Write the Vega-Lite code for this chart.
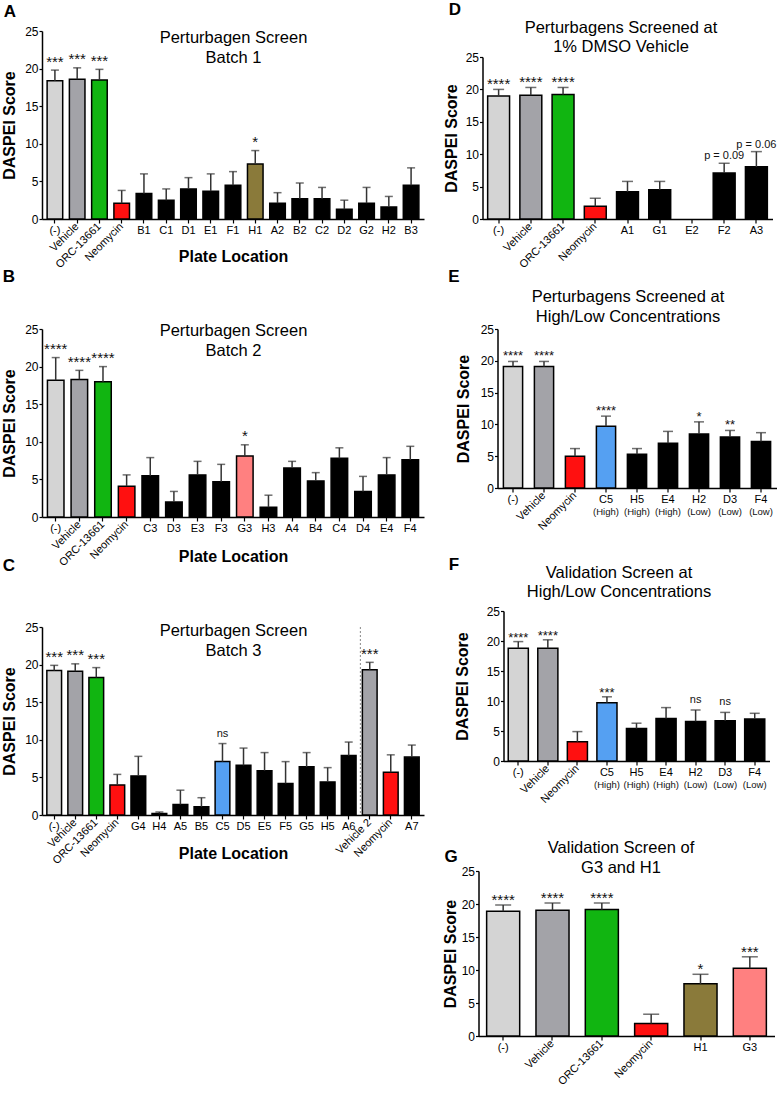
{
  "$schema": "https://vega.github.io/schema/vega-lite/v6.json",
  "background": "white",
  "padding": {"left": 1, "top": 0, "right": 0, "bottom": 0},
  "spacing": 18.5,
  "config": {
    "view": {"stroke": null},
    "font": "Liberation Sans",
    "axis": {"labelFont": "Liberation Sans", "titleFont": "Liberation Sans", "labelColor": "black", "titleColor": "black", "domainColor": "black", "tickColor": "black", "grid": false},
    "text": {"font": "Liberation Sans", "color": "#111"}
  },
  "hconcat": [
    {
      "spacing": 110,
      "bounds": "flush",
      "vconcat": [
        {
          "width": 382, "height": 188,
          "data": {"values": [
            {"cat": "(-)", "grp": "neg", "mean": 18.4, "hi": 19.8, "sig": "***"},
            {"cat": "Vehicle", "lab": "Vehicle", "grp": "veh", "mean": 18.6, "hi": 20.1, "sig": "***"},
            {"cat": "ORC-13661", "lab": "ORC-13661", "grp": "orc", "mean": 18.5, "hi": 19.9, "sig": "***"},
            {"cat": "Neomycin", "lab": "Neomycin", "grp": "neo", "mean": 2.1, "hi": 3.8},
            {"cat": "B1", "grp": "test", "mean": 3.4, "hi": 6.0},
            {"cat": "C1", "grp": "test", "mean": 2.5, "hi": 4.0},
            {"cat": "D1", "grp": "test", "mean": 4.0, "hi": 5.5},
            {"cat": "E1", "grp": "test", "mean": 3.7, "hi": 6.0},
            {"cat": "F1", "grp": "test", "mean": 4.5, "hi": 6.3},
            {"cat": "H1", "grp": "h1", "mean": 7.3, "hi": 9.1, "sig": "*"},
            {"cat": "A2", "grp": "test", "mean": 2.1, "hi": 3.5},
            {"cat": "B2", "grp": "test", "mean": 2.7, "hi": 4.8},
            {"cat": "C2", "grp": "test", "mean": 2.7, "hi": 4.2},
            {"cat": "D2", "grp": "test", "mean": 1.3, "hi": 2.5},
            {"cat": "G2", "grp": "test", "mean": 2.1, "hi": 4.2},
            {"cat": "H2", "grp": "test", "mean": 1.6, "hi": 3.0},
            {"cat": "B3", "grp": "test", "mean": 4.5, "hi": 6.8}
          ]},
          "layer": [
            {
              "mark": {"type": "bar", "stroke": "black", "strokeWidth": 1.5},
              "encoding": {
                "x": {"field": "cat", "type": "nominal",
                  "scale": {"domain": ["(-)", "Vehicle", "ORC-13661", "Neomycin", "B1", "C1", "D1", "E1", "F1", "H1", "A2", "B2", "C2", "D2", "G2", "H2", "B3"], "paddingInner": 0.3, "paddingOuter": 0.23},
                  "axis": {"orient": "bottom", "title": "Plate Location", "titleFontSize": 16, "titleFontWeight": "bold", "titleX": 191, "titleY": 37, "titleAlign": "center", "titleBaseline": "middle", "labelFontSize": 11, "labelAngle": 0, "labelPadding": 1, "tickSize": 4, "tickWidth": 1.2, "domainWidth": 1.5, "labelOverlap": false,
                    "labelExpr": "indexof(['Vehicle','ORC-13661','Neomycin','Vehicle 2','Neomycin 2'], datum.value) >= 0 ? '' : datum.value"}},
                "y": {"field": "mean", "type": "quantitative", "scale": {"domain": [0, 25], "nice": false},
                  "axis": {"title": "DASPEI Score", "titleFontSize": 16, "titleFontWeight": "bold", "titleX": -32.5, "titleBaseline": "middle", "values": [0, 5, 10, 15, 20, 25], "labelFontSize": 12, "tickSize": 3, "labelPadding": 1, "domainWidth": 1.5, "tickWidth": 1.2}},
                "color": {"field": "grp", "type": "nominal", "legend": null,
                  "scale": {"domain": ["neg", "veh", "orc", "neo", "h1", "g3", "c5", "test"], "range": ["#d4d4d4", "#a3a3a8", "#11b511", "#ff1010", "#8a7a3a", "#ff8080", "#55a0f2", "#000000"]}}
              }
            },
            {
              "mark": {"type": "rule", "color": "#333", "strokeWidth": 1.5},
              "encoding": {
                "x": {"field": "cat", "type": "nominal", "axis": {"orient": "top", "domain": false, "ticks": false, "labels": false, "title": ["Perturbagen Screen", "Batch 1"], "titleFontSize": 16.5, "titleFontWeight": "normal", "titleX": 191, "titleY": 11.5, "titleAlign": "center", "titleBaseline": "alphabetic", "titleLineHeight": 20, "titleAngle": 0}},
                "y": {"field": "mean", "type": "quantitative", "axis": null},
                "y2": {"field": "hi"}
              }
            },
            {
              "mark": {"type": "tick", "orient": "horizontal", "color": "#333", "thickness": 1.5, "size": 8},
              "encoding": {
                "x": {"field": "cat", "type": "nominal", "axis": null},
                "y": {"field": "hi", "type": "quantitative", "axis": {"orient": "right", "domain": false, "ticks": false, "labels": false, "title": "A", "titleFontSize": 17, "titleFontWeight": "bold", "titleAngle": 0, "titleX": -414.5, "titleY": -20, "titleAlign": "center", "titleBaseline": "middle"}}
              }
            },
            {
              "transform": [{"filter": "datum.sig && indexof(datum.sig, '*') >= 0"}],
              "mark": {"type": "text", "fontSize": 15, "baseline": "alphabetic", "dy": -3.5},
              "encoding": {
                "x": {"field": "cat", "type": "nominal", "axis": null},
                "y": {"field": "hi", "type": "quantitative", "axis": null},
                "text": {"field": "sig"}
              }
            },
            {
              "transform": [{"filter": "datum.lab"}],
              "mark": {"type": "text", "angle": 315, "align": "right", "baseline": "middle", "yOffset": 6, "fontSize": 11, "color": "black"},
              "encoding": {
                "x": {"field": "cat", "type": "nominal", "axis": null},
                "y": {"datum": 0, "type": "quantitative", "axis": null},
                "text": {"field": "lab"}
              }
            }
          ],
          "resolve": {"axis": {"x": "independent", "y": "independent"}}
        },
        {
          "width": 382, "height": 188,
          "data": {"values": [
            {"cat": "(-)", "grp": "neg", "mean": 18.2, "hi": 21.2, "sig": "****"},
            {"cat": "Vehicle", "lab": "Vehicle", "grp": "veh", "mean": 18.3, "hi": 19.5, "sig": "****"},
            {"cat": "ORC-13661", "lab": "ORC-13661", "grp": "orc", "mean": 18.0, "hi": 20.0, "sig": "****"},
            {"cat": "Neomycin", "lab": "Neomycin", "grp": "neo", "mean": 4.1, "hi": 5.6},
            {"cat": "C3", "grp": "test", "mean": 5.5, "hi": 7.9},
            {"cat": "D3", "grp": "test", "mean": 2.0, "hi": 3.4},
            {"cat": "E3", "grp": "test", "mean": 5.6, "hi": 7.4},
            {"cat": "F3", "grp": "test", "mean": 4.7, "hi": 7.0},
            {"cat": "G3", "grp": "g3", "mean": 8.1, "hi": 9.6, "sig": "*"},
            {"cat": "H3", "grp": "test", "mean": 1.3, "hi": 2.9},
            {"cat": "A4", "grp": "test", "mean": 6.5, "hi": 7.4},
            {"cat": "B4", "grp": "test", "mean": 4.8, "hi": 5.9},
            {"cat": "C4", "grp": "test", "mean": 7.8, "hi": 9.2},
            {"cat": "D4", "grp": "test", "mean": 3.4, "hi": 5.4},
            {"cat": "E4", "grp": "test", "mean": 5.6, "hi": 7.9},
            {"cat": "F4", "grp": "test", "mean": 7.6, "hi": 9.4}
          ]},
          "layer": [
            {
              "mark": {"type": "bar", "stroke": "black", "strokeWidth": 1.5},
              "encoding": {
                "x": {"field": "cat", "type": "nominal",
                  "scale": {"domain": ["(-)", "Vehicle", "ORC-13661", "Neomycin", "C3", "D3", "E3", "F3", "G3", "H3", "A4", "B4", "C4", "D4", "E4", "F4"], "paddingInner": 0.3, "paddingOuter": 0.23},
                  "axis": {"orient": "bottom", "title": "Plate Location", "titleFontSize": 16, "titleFontWeight": "bold", "titleX": 191, "titleY": 39, "titleAlign": "center", "titleBaseline": "middle", "labelFontSize": 11, "labelAngle": 0, "labelPadding": 1, "tickSize": 4, "tickWidth": 1.2, "domainWidth": 1.5, "labelOverlap": false,
                    "labelExpr": "indexof(['Vehicle','ORC-13661','Neomycin','Vehicle 2','Neomycin 2'], datum.value) >= 0 ? '' : datum.value"}},
                "y": {"field": "mean", "type": "quantitative", "scale": {"domain": [0, 25], "nice": false},
                  "axis": {"title": "DASPEI Score", "titleFontSize": 16, "titleFontWeight": "bold", "titleX": -32.5, "titleBaseline": "middle", "values": [0, 5, 10, 15, 20, 25], "labelFontSize": 12, "tickSize": 3, "labelPadding": 1, "domainWidth": 1.5, "tickWidth": 1.2}},
                "color": {"field": "grp", "type": "nominal", "legend": null,
                  "scale": {"domain": ["neg", "veh", "orc", "neo", "h1", "g3", "c5", "test"], "range": ["#d4d4d4", "#a3a3a8", "#11b511", "#ff1010", "#8a7a3a", "#ff8080", "#55a0f2", "#000000"]}}
              }
            },
            {
              "mark": {"type": "rule", "color": "#333", "strokeWidth": 1.5},
              "encoding": {
                "x": {"field": "cat", "type": "nominal", "axis": {"orient": "top", "domain": false, "ticks": false, "labels": false, "title": ["Perturbagen Screen", "Batch 2"], "titleFontSize": 16.5, "titleFontWeight": "normal", "titleX": 191, "titleY": 6.5, "titleAlign": "center", "titleBaseline": "alphabetic", "titleLineHeight": 19.5, "titleAngle": 0}},
                "y": {"field": "mean", "type": "quantitative", "axis": null},
                "y2": {"field": "hi"}
              }
            },
            {
              "mark": {"type": "tick", "orient": "horizontal", "color": "#333", "thickness": 1.5, "size": 8},
              "encoding": {
                "x": {"field": "cat", "type": "nominal", "axis": null},
                "y": {"field": "hi", "type": "quantitative", "axis": {"orient": "right", "domain": false, "ticks": false, "labels": false, "title": "B", "titleFontSize": 17, "titleFontWeight": "bold", "titleAngle": 0, "titleX": -415.5, "titleY": -53, "titleAlign": "center", "titleBaseline": "middle"}}
              }
            },
            {
              "transform": [{"filter": "datum.sig && indexof(datum.sig, '*') >= 0"}],
              "mark": {"type": "text", "fontSize": 15, "baseline": "alphabetic", "dy": -3.5},
              "encoding": {
                "x": {"field": "cat", "type": "nominal", "axis": null},
                "y": {"field": "hi", "type": "quantitative", "axis": null},
                "text": {"field": "sig"}
              }
            },
            {
              "transform": [{"filter": "datum.lab"}],
              "mark": {"type": "text", "angle": 315, "align": "right", "baseline": "middle", "yOffset": 6, "fontSize": 11, "color": "black"},
              "encoding": {
                "x": {"field": "cat", "type": "nominal", "axis": null},
                "y": {"datum": 0, "type": "quantitative", "axis": null},
                "text": {"field": "lab"}
              }
            }
          ],
          "resolve": {"axis": {"x": "independent", "y": "independent"}}
        },
        {
          "width": 382, "height": 188,
          "data": {"values": [
            {"cat": "(-)", "grp": "neg", "mean": 19.2, "hi": 19.9, "sig": "***"},
            {"cat": "Vehicle", "lab": "Vehicle", "grp": "veh", "mean": 19.1, "hi": 20.1, "sig": "***"},
            {"cat": "ORC-13661", "lab": "ORC-13661", "grp": "orc", "mean": 18.3, "hi": 19.6, "sig": "***"},
            {"cat": "Neomycin", "lab": "Neomycin", "grp": "neo", "mean": 4.0, "hi": 5.4},
            {"cat": "G4", "grp": "test", "mean": 5.2, "hi": 7.8},
            {"cat": "H4", "grp": "test", "mean": 0.2, "hi": 0.4},
            {"cat": "A5", "grp": "test", "mean": 1.4, "hi": 3.3},
            {"cat": "B5", "grp": "test", "mean": 1.1, "hi": 2.3},
            {"cat": "C5", "grp": "c5", "mean": 7.1, "hi": 9.5, "sig": "ns"},
            {"cat": "D5", "grp": "test", "mean": 6.6, "hi": 8.9},
            {"cat": "E5", "grp": "test", "mean": 5.9, "hi": 8.3},
            {"cat": "F5", "grp": "test", "mean": 4.2, "hi": 7.1},
            {"cat": "G5", "grp": "test", "mean": 6.4, "hi": 8.3},
            {"cat": "H5", "grp": "test", "mean": 4.4, "hi": 6.3},
            {"cat": "A6", "grp": "test", "mean": 7.9, "hi": 9.7},
            {"cat": "Vehicle 2", "lab": "Vehicle 2", "grp": "veh", "mean": 19.3, "hi": 20.3, "sig": "***"},
            {"cat": "Neomycin 2", "lab": "Neomycin", "grp": "neo", "mean": 5.7, "hi": 8.0},
            {"cat": "A7", "grp": "test", "mean": 7.7, "hi": 9.3}
          ]},
          "layer": [
            {
              "mark": {"type": "bar", "stroke": "black", "strokeWidth": 1.5},
              "encoding": {
                "x": {"field": "cat", "type": "nominal",
                  "scale": {"domain": ["(-)", "Vehicle", "ORC-13661", "Neomycin", "G4", "H4", "A5", "B5", "C5", "D5", "E5", "F5", "G5", "H5", "A6", "Vehicle 2", "Neomycin 2", "A7"], "paddingInner": 0.3, "paddingOuter": 0.23},
                  "axis": {"orient": "bottom", "title": "Plate Location", "titleFontSize": 16, "titleFontWeight": "bold", "titleX": 191, "titleY": 38, "titleAlign": "center", "titleBaseline": "middle", "labelFontSize": 11, "labelAngle": 0, "labelPadding": 1, "tickSize": 4, "tickWidth": 1.2, "domainWidth": 1.5, "labelOverlap": false,
                    "labelExpr": "indexof(['Vehicle','ORC-13661','Neomycin','Vehicle 2','Neomycin 2'], datum.value) >= 0 ? '' : datum.value"}},
                "y": {"field": "mean", "type": "quantitative", "scale": {"domain": [0, 25], "nice": false},
                  "axis": {"title": "DASPEI Score", "titleFontSize": 16, "titleFontWeight": "bold", "titleX": -32.5, "titleBaseline": "middle", "values": [0, 5, 10, 15, 20, 25], "labelFontSize": 12, "tickSize": 3, "labelPadding": 1, "domainWidth": 1.5, "tickWidth": 1.2}},
                "color": {"field": "grp", "type": "nominal", "legend": null,
                  "scale": {"domain": ["neg", "veh", "orc", "neo", "h1", "g3", "c5", "test"], "range": ["#d4d4d4", "#a3a3a8", "#11b511", "#ff1010", "#8a7a3a", "#ff8080", "#55a0f2", "#000000"]}}
              }
            },
            {
              "mark": {"type": "rule", "color": "#333", "strokeWidth": 1.5},
              "encoding": {
                "x": {"field": "cat", "type": "nominal", "axis": {"orient": "top", "domain": false, "ticks": false, "labels": false, "title": ["Perturbagen Screen", "Batch 3"], "titleFontSize": 16.5, "titleFontWeight": "normal", "titleX": 191, "titleY": 8.5, "titleAlign": "center", "titleBaseline": "alphabetic", "titleLineHeight": 20, "titleAngle": 0}},
                "y": {"field": "mean", "type": "quantitative", "axis": null},
                "y2": {"field": "hi"}
              }
            },
            {
              "mark": {"type": "tick", "orient": "horizontal", "color": "#333", "thickness": 1.5, "size": 8},
              "encoding": {
                "x": {"field": "cat", "type": "nominal", "axis": null},
                "y": {"field": "hi", "type": "quantitative", "axis": {"orient": "right", "domain": false, "ticks": false, "labels": false, "title": "C", "titleFontSize": 17, "titleFontWeight": "bold", "titleAngle": 0, "titleX": -415.5, "titleY": -62, "titleAlign": "center", "titleBaseline": "middle"}}
              }
            },
            {
              "transform": [{"filter": "datum.sig && indexof(datum.sig, '*') >= 0"}],
              "mark": {"type": "text", "fontSize": 15, "baseline": "alphabetic", "dy": -3.5},
              "encoding": {
                "x": {"field": "cat", "type": "nominal", "axis": null},
                "y": {"field": "hi", "type": "quantitative", "axis": null},
                "text": {"field": "sig"}
              }
            },
            {
              "transform": [{"filter": "datum.sig && indexof(datum.sig, '*') < 0"}],
              "mark": {"type": "text", "fontSize": 11, "baseline": "alphabetic", "dy": -7},
              "encoding": {
                "x": {"field": "cat", "type": "nominal", "axis": null},
                "y": {"field": "hi", "type": "quantitative", "axis": null},
                "text": {"field": "sig"}
              }
            },
            {
              "transform": [{"filter": "datum.lab"}],
              "mark": {"type": "text", "angle": 315, "align": "right", "baseline": "middle", "yOffset": 6, "fontSize": 11, "color": "black"},
              "encoding": {
                "x": {"field": "cat", "type": "nominal", "axis": null},
                "y": {"datum": 0, "type": "quantitative", "axis": null},
                "text": {"field": "lab"}
              }
            },
            {
              "data": {"values": [{"cat": "Vehicle 2"}]},
              "mark": {"type": "rule", "strokeDash": [2, 2], "color": "#888", "strokeWidth": 1, "xOffset": -2},
              "encoding": {
                "x": {"field": "cat", "type": "nominal", "bandPosition": 0, "axis": null}
              }
            }
          ],
          "resolve": {"axis": {"x": "independent", "y": "independent"}}
        }
      ]
    },
    {
      "spacing": 110,
      "bounds": "flush",
      "vconcat": [
        {
          "width": 294, "height": 188,
          "data": {"values": [
            {"cat": "(-)", "grp": "neg", "mean": 19.0, "hi": 20.0, "sig": "****"},
            {"cat": "Vehicle", "lab": "Vehicle", "grp": "veh", "mean": 19.1, "hi": 20.3, "sig": "****"},
            {"cat": "ORC-13661", "lab": "ORC-13661", "grp": "orc", "mean": 19.2, "hi": 20.3, "sig": "****"},
            {"cat": "Neomycin", "lab": "Neomycin", "grp": "neo", "mean": 1.95, "hi": 3.2},
            {"cat": "A1", "grp": "test", "mean": 4.2, "hi": 5.8},
            {"cat": "G1", "grp": "test", "mean": 4.5, "hi": 5.8},
            {"cat": "F2", "grp": "test", "mean": 7.1, "hi": 8.6, "sig": "p = 0.09"},
            {"cat": "A3", "grp": "test", "mean": 8.05, "hi": 10.4, "sig": "p = 0.06"}
          ]},
          "layer": [
            {
              "mark": {"type": "bar", "stroke": "black", "strokeWidth": 1.5},
              "encoding": {
                "x": {"field": "cat", "type": "nominal",
                  "scale": {"domain": ["(-)", "Vehicle", "ORC-13661", "Neomycin", "A1", "G1", "E2", "F2", "A3"], "paddingInner": 0.32, "paddingOuter": 0.16, "range": [4, 294]},
                  "axis": {"orient": "bottom", "title": null, "labelFontSize": 11, "labelAngle": 0, "labelPadding": 1, "tickSize": 4, "tickWidth": 1.2, "domainWidth": 1.5, "labelOverlap": false,
                    "labelExpr": "indexof(['Vehicle','ORC-13661','Neomycin','Vehicle 2','Neomycin 2'], datum.value) >= 0 ? '' : datum.value"}},
                "y": {"field": "mean", "type": "quantitative", "scale": {"domain": [0, 25], "nice": false, "range": [188, 26]},
                  "axis": {"title": "DASPEI Score", "offset": -4, "titleFontSize": 16, "titleFontWeight": "bold", "titleX": -31, "titleBaseline": "middle", "values": [0, 5, 10, 15, 20, 25], "labelFontSize": 12, "tickSize": 3, "labelPadding": 1, "domainWidth": 1.5, "tickWidth": 1.2}},
                "color": {"field": "grp", "type": "nominal", "legend": null,
                  "scale": {"domain": ["neg", "veh", "orc", "neo", "h1", "g3", "c5", "test"], "range": ["#d4d4d4", "#a3a3a8", "#11b511", "#ff1010", "#8a7a3a", "#ff8080", "#55a0f2", "#000000"]}}
              }
            },
            {
              "mark": {"type": "rule", "color": "#333", "strokeWidth": 1.5},
              "encoding": {
                "x": {"field": "cat", "type": "nominal", "axis": {"orient": "top", "domain": false, "ticks": false, "labels": false, "title": ["Perturbagens Screened at", "1% DMSO Vehicle"], "titleFontSize": 16.5, "titleFontWeight": "normal", "titleX": 142, "titleY": 1.5, "titleAlign": "center", "titleBaseline": "alphabetic", "titleLineHeight": 18.5, "titleAngle": 0}},
                "y": {"field": "mean", "type": "quantitative", "axis": null},
                "y2": {"field": "hi"}
              }
            },
            {
              "mark": {"type": "tick", "orient": "horizontal", "color": "#333", "thickness": 1.5, "size": 11},
              "encoding": {
                "x": {"field": "cat", "type": "nominal", "axis": null},
                "y": {"field": "hi", "type": "quantitative", "axis": {"orient": "right", "domain": false, "ticks": false, "labels": false, "title": "D", "titleFontSize": 17, "titleFontWeight": "bold", "titleAngle": 0, "titleX": -318, "titleY": -22, "titleAlign": "center", "titleBaseline": "middle"}}
              }
            },
            {
              "transform": [{"filter": "datum.sig && indexof(datum.sig, '*') >= 0"}],
              "mark": {"type": "text", "fontSize": 15, "baseline": "alphabetic", "dy": 0},
              "encoding": {
                "x": {"field": "cat", "type": "nominal", "axis": null},
                "y": {"field": "hi", "type": "quantitative", "axis": null},
                "text": {"field": "sig"}
              }
            },
            {
              "transform": [{"filter": "datum.sig && indexof(datum.sig, '*') < 0"}],
              "mark": {"type": "text", "fontSize": 11, "baseline": "alphabetic", "dy": -4},
              "encoding": {
                "x": {"field": "cat", "type": "nominal", "axis": null},
                "y": {"field": "hi", "type": "quantitative", "axis": null},
                "text": {"field": "sig"}
              }
            },
            {
              "transform": [{"filter": "datum.lab"}],
              "mark": {"type": "text", "angle": 315, "align": "right", "baseline": "middle", "yOffset": 6, "fontSize": 11, "color": "black"},
              "encoding": {
                "x": {"field": "cat", "type": "nominal", "axis": null},
                "y": {"datum": 0, "type": "quantitative", "axis": null},
                "text": {"field": "lab"}
              }
            }
          ],
          "resolve": {"axis": {"x": "independent", "y": "independent"}}
        },
        {
          "width": 298, "height": 159,
          "data": {"values": [
            {"cat": "(-)", "grp": "neg", "mean": 19.1, "hi": 19.9, "sig": "****"},
            {"cat": "Vehicle", "lab": "Vehicle", "grp": "veh", "mean": 19.1, "hi": 19.9, "sig": "****"},
            {"cat": "Neomycin", "lab": "Neomycin", "grp": "neo", "mean": 5.0, "hi": 6.2},
            {"cat": "C5", "grp": "c5", "mean": 9.7, "hi": 11.3, "sig": "****", "sub": "(High)"},
            {"cat": "H5", "grp": "test", "mean": 5.3, "hi": 6.2, "sub": "(High)"},
            {"cat": "E4", "grp": "test", "mean": 7.05, "hi": 8.9, "sub": "(High)"},
            {"cat": "H2", "grp": "test", "mean": 8.5, "hi": 10.4, "sig": "*", "sub": "(Low)"},
            {"cat": "D3", "grp": "test", "mean": 8.0, "hi": 9.05, "sig": "**", "sub": "(Low)"},
            {"cat": "F4", "grp": "test", "mean": 7.3, "hi": 8.7, "sub": "(Low)"}
          ]},
          "layer": [
            {
              "mark": {"type": "bar", "stroke": "black", "strokeWidth": 1.5},
              "encoding": {
                "x": {"field": "cat", "type": "nominal",
                  "scale": {"domain": ["(-)", "Vehicle", "Neomycin", "C5", "H5", "E4", "H2", "D3", "F4"], "paddingInner": 0.38, "paddingOuter": 0.19, "range": [19, 298]},
                  "axis": {"orient": "bottom", "title": null, "labelFontSize": 11, "labelAngle": 0, "labelPadding": 1, "tickSize": 4, "tickWidth": 1.2, "domainWidth": 1.5, "labelOverlap": false,
                    "labelExpr": "indexof(['Vehicle','ORC-13661','Neomycin','Vehicle 2','Neomycin 2'], datum.value) >= 0 ? '' : datum.value"}},
                "y": {"field": "mean", "type": "quantitative", "scale": {"domain": [0, 25], "nice": false},
                  "axis": {"title": "DASPEI Score", "offset": -19, "titleFontSize": 16, "titleFontWeight": "bold", "titleX": -34, "titleBaseline": "middle", "values": [0, 5, 10, 15, 20, 25], "labelFontSize": 12, "tickSize": 3, "labelPadding": 1, "domainWidth": 1.5, "tickWidth": 1.2}},
                "color": {"field": "grp", "type": "nominal", "legend": null,
                  "scale": {"domain": ["neg", "veh", "orc", "neo", "h1", "g3", "c5", "test"], "range": ["#d4d4d4", "#a3a3a8", "#11b511", "#ff1010", "#8a7a3a", "#ff8080", "#55a0f2", "#000000"]}}
              }
            },
            {
              "mark": {"type": "rule", "color": "#333", "strokeWidth": 1.5},
              "encoding": {
                "x": {"field": "cat", "type": "nominal", "axis": {"orient": "top", "domain": false, "ticks": false, "labels": false, "title": ["Perturbagens Screened at", "High/Low Concentrations"], "titleFontSize": 16.5, "titleFontWeight": "normal", "titleX": 149, "titleY": -27.5, "titleAlign": "center", "titleBaseline": "alphabetic", "titleLineHeight": 20, "titleAngle": 0}},
                "y": {"field": "mean", "type": "quantitative", "axis": null},
                "y2": {"field": "hi"}
              }
            },
            {
              "mark": {"type": "tick", "orient": "horizontal", "color": "#333", "thickness": 1.5, "size": 10},
              "encoding": {
                "x": {"field": "cat", "type": "nominal", "axis": null},
                "y": {"field": "hi", "type": "quantitative", "axis": {"orient": "right", "domain": false, "ticks": false, "labels": false, "title": "E", "titleFontSize": 17, "titleFontWeight": "bold", "titleAngle": 0, "titleX": -323, "titleY": -53, "titleAlign": "center", "titleBaseline": "middle"}}
              }
            },
            {
              "transform": [{"filter": "datum.sig && indexof(datum.sig, '*') >= 0"}],
              "mark": {"type": "text", "fontSize": 13, "baseline": "alphabetic", "dy": -1},
              "encoding": {
                "x": {"field": "cat", "type": "nominal", "axis": null},
                "y": {"field": "hi", "type": "quantitative", "axis": null},
                "text": {"field": "sig"}
              }
            },
            {
              "transform": [{"filter": "datum.sub"}],
              "mark": {"type": "text", "fontSize": 9.5, "baseline": "middle", "dy": 24},
              "encoding": {
                "x": {"field": "cat", "type": "nominal", "axis": null},
                "y": {"datum": 0, "type": "quantitative", "axis": null},
                "text": {"field": "sub"}
              }
            },
            {
              "transform": [{"filter": "datum.lab"}],
              "mark": {"type": "text", "angle": 315, "align": "right", "baseline": "middle", "yOffset": 6, "fontSize": 11, "color": "black"},
              "encoding": {
                "x": {"field": "cat", "type": "nominal", "axis": null},
                "y": {"datum": 0, "type": "quantitative", "axis": null},
                "text": {"field": "lab"}
              }
            }
          ],
          "resolve": {"axis": {"x": "independent", "y": "independent"}}
        },
        {
          "width": 291, "height": 163,
          "data": {"values": [
            {"cat": "(-)", "grp": "neg", "mean": 18.8, "hi": 19.9, "sig": "****"},
            {"cat": "Vehicle", "lab": "Vehicle", "grp": "veh", "mean": 18.8, "hi": 20.2, "sig": "****"},
            {"cat": "Neomycin", "lab": "Neomycin", "grp": "neo", "mean": 3.2, "hi": 4.9},
            {"cat": "C5", "grp": "c5", "mean": 9.7, "hi": 10.7, "sig": "***", "sub": "(High)"},
            {"cat": "H5", "grp": "test", "mean": 5.4, "hi": 6.3, "sub": "(High)"},
            {"cat": "E4", "grp": "test", "mean": 7.1, "hi": 8.9, "sub": "(High)"},
            {"cat": "H2", "grp": "test", "mean": 6.6, "hi": 8.5, "sig": "ns", "sub": "(Low)"},
            {"cat": "D3", "grp": "test", "mean": 6.7, "hi": 8.1, "sig": "ns", "sub": "(Low)"},
            {"cat": "F4", "grp": "test", "mean": 7.0, "hi": 7.95, "sub": "(Low)"}
          ]},
          "layer": [
            {
              "mark": {"type": "bar", "stroke": "black", "strokeWidth": 1.5},
              "encoding": {
                "x": {"field": "cat", "type": "nominal",
                  "scale": {"domain": ["(-)", "Vehicle", "Neomycin", "C5", "H5", "E4", "H2", "D3", "F4"], "paddingInner": 0.32, "paddingOuter": 0.16, "range": [25, 291]},
                  "axis": {"orient": "bottom", "title": null, "labelFontSize": 11, "labelAngle": 0, "labelPadding": 1, "tickSize": 4, "tickWidth": 1.2, "domainWidth": 1.5, "labelOverlap": false,
                    "labelExpr": "indexof(['Vehicle','ORC-13661','Neomycin','Vehicle 2','Neomycin 2'], datum.value) >= 0 ? '' : datum.value"}},
                "y": {"field": "mean", "type": "quantitative", "scale": {"domain": [0, 25], "nice": false, "range": [163, 13]},
                  "axis": {"title": "DASPEI Score", "offset": -25, "titleFontSize": 16, "titleFontWeight": "bold", "titleX": -41, "titleBaseline": "middle", "values": [0, 5, 10, 15, 20, 25], "labelFontSize": 12, "tickSize": 3, "labelPadding": 1, "domainWidth": 1.5, "tickWidth": 1.2}},
                "color": {"field": "grp", "type": "nominal", "legend": null,
                  "scale": {"domain": ["neg", "veh", "orc", "neo", "h1", "g3", "c5", "test"], "range": ["#d4d4d4", "#a3a3a8", "#11b511", "#ff1010", "#8a7a3a", "#ff8080", "#55a0f2", "#000000"]}}
              }
            },
            {
              "mark": {"type": "rule", "color": "#333", "strokeWidth": 1.5},
              "encoding": {
                "x": {"field": "cat", "type": "nominal", "axis": {"orient": "top", "domain": false, "ticks": false, "labels": false, "title": ["Validation Screen at", "High/Low Concentrations"], "titleFontSize": 16.5, "titleFontWeight": "normal", "titleX": 140, "titleY": -20.5, "titleAlign": "center", "titleBaseline": "alphabetic", "titleLineHeight": 19, "titleAngle": 0}},
                "y": {"field": "mean", "type": "quantitative", "axis": null},
                "y2": {"field": "hi"}
              }
            },
            {
              "mark": {"type": "tick", "orient": "horizontal", "color": "#333", "thickness": 1.5, "size": 10},
              "encoding": {
                "x": {"field": "cat", "type": "nominal", "axis": null},
                "y": {"field": "hi", "type": "quantitative", "axis": {"orient": "right", "domain": false, "ticks": false, "labels": false, "title": "F", "titleFontSize": 17, "titleFontWeight": "bold", "titleAngle": 0, "titleX": -316, "titleY": -34, "titleAlign": "center", "titleBaseline": "middle"}}
              }
            },
            {
              "transform": [{"filter": "datum.sig && indexof(datum.sig, '*') >= 0"}],
              "mark": {"type": "text", "fontSize": 13, "baseline": "alphabetic", "dy": 0},
              "encoding": {
                "x": {"field": "cat", "type": "nominal", "axis": null},
                "y": {"field": "hi", "type": "quantitative", "axis": null},
                "text": {"field": "sig"}
              }
            },
            {
              "transform": [{"filter": "datum.sig && indexof(datum.sig, '*') < 0"}],
              "mark": {"type": "text", "fontSize": 11, "baseline": "alphabetic", "dy": -7},
              "encoding": {
                "x": {"field": "cat", "type": "nominal", "axis": null},
                "y": {"field": "hi", "type": "quantitative", "axis": null},
                "text": {"field": "sig"}
              }
            },
            {
              "transform": [{"filter": "datum.sub"}],
              "mark": {"type": "text", "fontSize": 9.5, "baseline": "middle", "dy": 24},
              "encoding": {
                "x": {"field": "cat", "type": "nominal", "axis": null},
                "y": {"datum": 0, "type": "quantitative", "axis": null},
                "text": {"field": "sub"}
              }
            },
            {
              "transform": [{"filter": "datum.lab"}],
              "mark": {"type": "text", "angle": 315, "align": "right", "baseline": "middle", "yOffset": 6, "fontSize": 11, "color": "black"},
              "encoding": {
                "x": {"field": "cat", "type": "nominal", "axis": null},
                "y": {"datum": 0, "type": "quantitative", "axis": null},
                "text": {"field": "lab"}
              }
            }
          ],
          "resolve": {"axis": {"x": "independent", "y": "independent"}}
        },
        {
          "width": 296, "height": 165,
          "data": {"values": [
            {"cat": "(-)", "grp": "neg", "mean": 18.9, "hi": 19.85, "sig": "****"},
            {"cat": "Vehicle", "lab": "Vehicle", "grp": "veh", "mean": 19.05, "hi": 20.15, "sig": "****"},
            {"cat": "ORC-13661", "lab": "ORC-13661", "grp": "orc", "mean": 19.15, "hi": 20.15, "sig": "****"},
            {"cat": "Neomycin", "lab": "Neomycin", "grp": "neo", "mean": 1.9, "hi": 3.3},
            {"cat": "H1", "grp": "h1", "mean": 7.9, "hi": 9.35, "sig": "*"},
            {"cat": "G3", "grp": "g3", "mean": 10.25, "hi": 12.0, "sig": "***"}
          ]},
          "layer": [
            {
              "mark": {"type": "bar", "stroke": "black", "strokeWidth": 1.5},
              "encoding": {
                "x": {"field": "cat", "type": "nominal",
                  "scale": {"domain": ["(-)", "Vehicle", "ORC-13661", "Neomycin", "H1", "G3"], "paddingInner": 0.33, "paddingOuter": 0.165},
                  "axis": {"orient": "bottom", "title": null, "labelFontSize": 11, "labelAngle": 0, "labelPadding": 1, "tickSize": 4, "tickWidth": 1.2, "domainWidth": 1.5, "labelOverlap": false,
                    "labelExpr": "indexof(['Vehicle','ORC-13661','Neomycin','Vehicle 2','Neomycin 2'], datum.value) >= 0 ? '' : datum.value"}},
                "y": {"field": "mean", "type": "quantitative", "scale": {"domain": [0, 25], "nice": false},
                  "axis": {"title": "DASPEI Score", "titleFontSize": 16, "titleFontWeight": "bold", "titleX": -28, "titleBaseline": "middle", "values": [0, 5, 10, 15, 20, 25], "labelFontSize": 12, "tickSize": 3, "labelPadding": 1, "domainWidth": 1.5, "tickWidth": 1.2}},
                "color": {"field": "grp", "type": "nominal", "legend": null,
                  "scale": {"domain": ["neg", "veh", "orc", "neo", "h1", "g3", "c5", "test"], "range": ["#d4d4d4", "#a3a3a8", "#11b511", "#ff1010", "#8a7a3a", "#ff8080", "#55a0f2", "#000000"]}}
              }
            },
            {
              "mark": {"type": "rule", "color": "#333", "strokeWidth": 1.5},
              "encoding": {
                "x": {"field": "cat", "type": "nominal", "axis": {"orient": "top", "domain": false, "ticks": false, "labels": false, "title": ["Validation Screen of", "G3 and H1"], "titleFontSize": 16.5, "titleFontWeight": "normal", "titleX": 142, "titleY": -18.5, "titleAlign": "center", "titleBaseline": "alphabetic", "titleLineHeight": 20, "titleAngle": 0}},
                "y": {"field": "mean", "type": "quantitative", "axis": null},
                "y2": {"field": "hi"}
              }
            },
            {
              "mark": {"type": "tick", "orient": "horizontal", "color": "#333", "thickness": 1.5, "size": 16},
              "encoding": {
                "x": {"field": "cat", "type": "nominal", "axis": null},
                "y": {"field": "hi", "type": "quantitative", "axis": {"orient": "right", "domain": false, "ticks": false, "labels": false, "title": "G", "titleFontSize": 17, "titleFontWeight": "bold", "titleAngle": 0, "titleX": -324, "titleY": -15, "titleAlign": "center", "titleBaseline": "middle"}}
              }
            },
            {
              "transform": [{"filter": "datum.sig && indexof(datum.sig, '*') >= 0"}],
              "mark": {"type": "text", "fontSize": 15, "baseline": "alphabetic", "dy": 0},
              "encoding": {
                "x": {"field": "cat", "type": "nominal", "axis": null},
                "y": {"field": "hi", "type": "quantitative", "axis": null},
                "text": {"field": "sig"}
              }
            },
            {
              "transform": [{"filter": "datum.lab"}],
              "mark": {"type": "text", "angle": 315, "align": "right", "baseline": "middle", "yOffset": 6, "fontSize": 11, "color": "black"},
              "encoding": {
                "x": {"field": "cat", "type": "nominal", "axis": null},
                "y": {"datum": 0, "type": "quantitative", "axis": null},
                "text": {"field": "lab"}
              }
            }
          ],
          "resolve": {"axis": {"x": "independent", "y": "independent"}}
        }
      ]
    }
  ]
}
